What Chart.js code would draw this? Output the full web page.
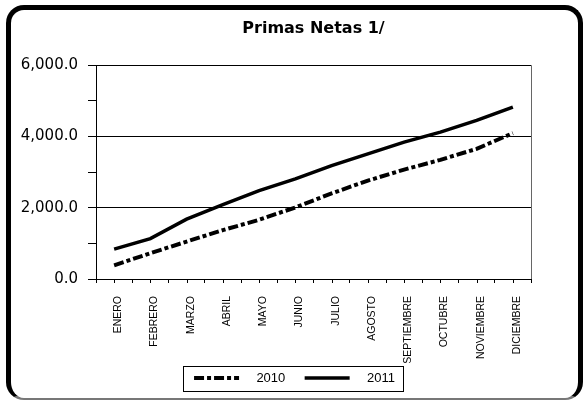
<!DOCTYPE html>
<html>
    <head>
        <meta charset="utf-8">
        <title>Primas Netas 1/</title>
        <script src="https://cdn.jsdelivr.net/npm/chart.js@4/dist/chart.umd.min.js"></script>
        <style>
            body { margin: 0; background: #fff; }
            #marco { position: absolute; left: 6px; top: 5px; right: 1px; bottom: 0; border: 5px solid #000; border-bottom: 2px solid #777; border-radius: 18px; }
            #grafica { position: absolute; left: 0; top: 0; }
        </style>
    </head>
    <body>
        <div id="marco"></div>
        <canvas id="grafica" width="584" height="400"></canvas>
        <script>
            // datos
            var meses = ['ENERO', 'FEBRERO', 'MARZO', 'ABRIL', 'MAYO', 'JUNIO', 'JULIO', 'AGOSTO', 'SEPTIEMBRE', 'OCTUBRE', 'NOVIEMBRE', 'DICIEMBRE'];
            var primas2010 = [385, 724, 1051, 1372, 1662, 2008, 2403, 2760, 3070, 3344, 3653, 4093];
            var primas2011 = [837, 1135, 1680, 2085, 2479, 2808, 3183, 3512, 3840, 4121, 4450, 4825];
            var series = ['2010', '2011'];

            // marcas cortas en el centro de cada mes + borde derecho del area
            var marcas = {
                id: 'marcas',
                afterDraw: function(chart) {
                    var ctx = chart.ctx;
                    var a = chart.chartArea;
                    var x = chart.scales.x;
                    ctx.save();
                    ctx.strokeStyle = '#000';
                    ctx.lineWidth = 1;
                    ctx.beginPath();
                    for (var i = 0; i < meses.length; i++) {
                        var px = Math.round(x.getPixelForValue(i)) + 0.5;
                        ctx.moveTo(px, a.bottom);
                        ctx.lineTo(px, a.bottom + 4);
                    }
                    ctx.stroke();
                    ctx.strokeStyle = '#666';
                    ctx.beginPath();
                    ctx.moveTo(Math.round(a.right) + 0.5, a.top);
                    ctx.lineTo(Math.round(a.right) + 0.5, a.bottom);
                    ctx.stroke();

                    // recuadro de la leyenda
                    var hb = chart.legend.legendHitBoxes;
                    if (hb && hb.length) {
                        var ult = hb[hb.length - 1];
                        ctx.strokeStyle = '#000';
                        ctx.strokeRect(Math.round(hb[0].left - 11) + 0.5, Math.round(hb[0].top - 6) + 0.5,
                            Math.round(ult.left + ult.width + 8 - (hb[0].left - 11)), Math.round(hb[0].height + 12));
                    }
                    ctx.restore();
                }
            };

            new Chart(document.getElementById('grafica'), {
                type: 'line',
                data: {
                    labels: meses,
                    datasets: [
                        {label: series[0], data: primas2010, borderColor: '#000', backgroundColor: '#000', borderWidth: 4,
                            borderDash: [10, 3, 4, 3], borderCapStyle: 'butt', pointRadius: 0, tension: 0, fill: false},
                        {label: series[1], data: primas2011, borderColor: '#000', backgroundColor: '#000', borderWidth: 3.5,
                            borderCapStyle: 'butt', pointRadius: 0, tension: 0, fill: false}
                    ]
                },
                options: {
                    responsive: false,
                    animation: false,
                    layout: {padding: {left: 20, right: 15, top: 0, bottom: 5.5}},
                    plugins: {
                        title: {
                            display: true,
                            text: 'Primas Netas 1/',
                            fullSize: false,
                            color: '#000',
                            font: {family: 'DejaVu Sans', size: 16, weight: 'bold'},
                            padding: {top: 19, bottom: 27}
                        },
                        legend: {
                            position: 'bottom',
                            labels: {
                                color: '#000',
                                font: {family: 'Liberation Sans', size: 13},
                                usePointStyle: true,
                                pointStyle: 'line',
                                pointStyleWidth: 45,
                                padding: 8.5,
                                generateLabels: function(chart) {
                                    var items = Chart.defaults.plugins.legend.labels.generateLabels(chart);
                                    items.forEach(function(it, i) {
                                        var ds = chart.data.datasets[i];
                                        it.lineDash = ds.borderDash || [];
                                        it.lineWidth = ds.borderWidth;
                                        it.lineCap = 'butt';
                                    });
                                    items[0].text = '   ' + items[0].text + '   ';
                                    items[1].text = '   ' + items[1].text;
                                    return items;
                                }
                            }
                        },
                        tooltip: {enabled: false}
                    },
                    scales: {
                        x: {
                            offset: true,
                            afterFit: function(s) { s.height = 84; },
                            grid: {offset: true, drawOnChartArea: false, tickLength: 4, tickColor: '#000'},
                            border: {color: '#000', width: 1},
                            ticks: {
                                autoSkip: false, maxRotation: 90, minRotation: 90, padding: 13, labelOffset: 4,
                                color: '#000', font: {family: 'Liberation Sans', size: 10.5}
                            }
                        },
                        y: {
                            min: 0,
                            max: 6000,
                            afterFit: function(s) { s.width = 76; },
                            grid: {
                                color: function(c) { return c.tick && c.tick.value % 2000 === 0 ? '#000' : 'rgba(0,0,0,0)'; },
                                tickColor: '#000',
                                tickLength: 8
                            },
                            border: {color: '#000', width: 1},
                            ticks: {
                                stepSize: 1000,
                                padding: 10,
                                color: '#000',
                                font: {family: 'DejaVu Sans', size: 15},
                                callback: function(v) {
                                    return v % 2000 === 0 ? v.toLocaleString('en-US', {minimumFractionDigits: 1, maximumFractionDigits: 1}) : '';
                                }
                            }
                        },
                        y2: {
                            position: 'right',
                            afterFit: function(s) { s.width = 38; },
                            grid: {display: false},
                            border: {display: false},
                            ticks: {display: false}
                        }
                    }
                },
                plugins: [marcas]
            });
        </script>
    </body>
</html>
